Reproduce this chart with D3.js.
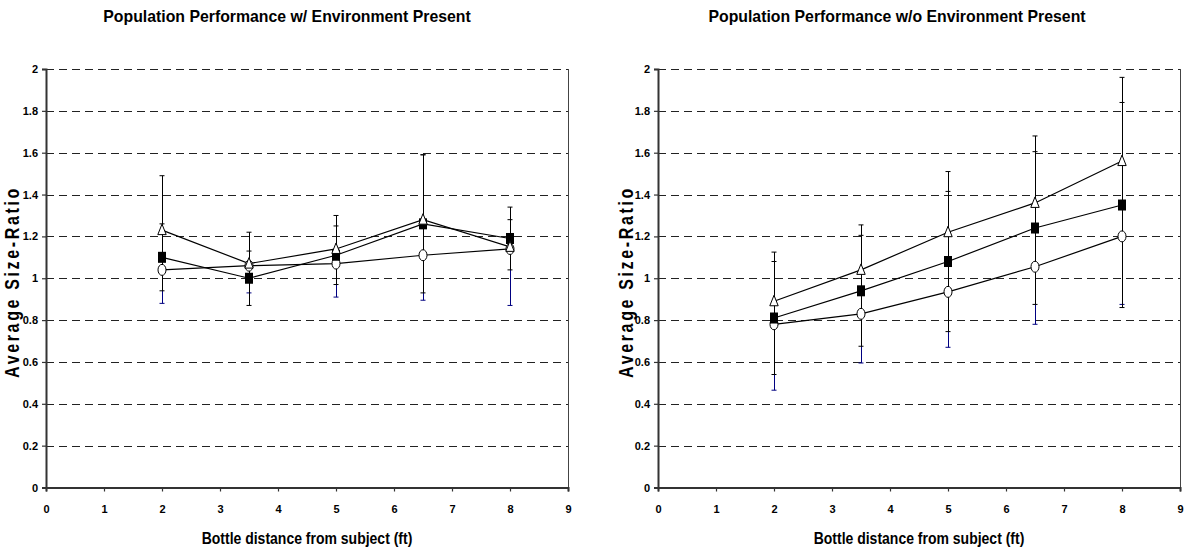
<!DOCTYPE html>
<html>
<head>
<meta charset="utf-8">
<script src="https://cdn.jsdelivr.net/npm/d3@7"></script>
<style>
  body { margin: 0; background: #fff; }
  svg { display: block; }
  text { font-family: "Liberation Sans", Arial, sans-serif; font-weight: bold; fill: #000; }
</style>
</head>
<body>
<div id="chart"></div>
<script>
// distances (ft) shared by both panels
const distances = [2, 3.5, 5, 6.5, 8];
const xTickValues = [0, 1, 2, 3, 4, 5, 6, 7, 8, 9];
const yTickValues = [0, 0.2, 0.4, 0.6, 0.8, 1, 1.2, 1.4, 1.6, 1.8, 2];

// with environment present
const withTriangle = [1.23, 1.07, 1.14, 1.28, 1.15];
const withTriangleErr = [0.26, 0.15, 0.16, 0.31, 0.13];
const withSquare = [1.10, 1.00, 1.11, 1.26, 1.19];
const withSquareErr = [0.16, 0.13, 0.14, 0.33, 0.15];
const withCircle = [1.04, 1.06, 1.07, 1.11, 1.14];
const withCircleErr = [0.16, 0.13, 0.16, 0.215, 0.27];

// without environment present
const withoutTriangle = [0.89, 1.04, 1.22, 1.36, 1.56];
const withoutTriangleErr = [0.235, 0.215, 0.29, 0.32, 0.40];
const withoutSquare = [0.81, 0.94, 1.08, 1.24, 1.35];
const withoutSquareErr = [0.27, 0.265, 0.335, 0.365, 0.49];
const withoutCircle = [0.78, 0.83, 0.935, 1.055, 1.20];
const withoutCircleErr = [0.315, 0.235, 0.265, 0.275, 0.325];

const width = 1188, height = 558;

const svg = d3.select("#chart").append("svg")
    .attr("width", width)
    .attr("height", height);

// text placed at (x, y) with a slight stretch, the original was resized unevenly
function label(g, x, y, str, size, sx, sy, rotate) {
    return g.append("text")
        .attr("transform", `translate(${x},${y})${rotate ? " rotate(-90)" : ""} scale(${sx},${sy})`)
        .attr("text-anchor", "middle")
        .style("font-size", size + "px")
        .text(str);
}

function drawPanel(opts) {
    const x = d3.scaleLinear().domain([0, 9]).range([opts.left, opts.right]);
    const y = d3.scaleLinear().domain([0, 2]).range([487.5, 69]);
    const g = svg.append("g");

    // dashed gridlines
    g.append("g")
        .selectAll("line")
        .data(yTickValues.filter(d => d > 0))
        .join("line")
        .attr("x1", x(0)).attr("x2", x(9))
        .attr("y1", d => Math.round(y(d)) + 0.5).attr("y2", d => Math.round(y(d)) + 0.5)
        .attr("stroke", "#222")
        .attr("stroke-width", 1)
        .attr("stroke-dasharray", "8,5");

    // right border of plot area
    g.append("line")
        .attr("x1", x(9) + 0.5).attr("x2", x(9) + 0.5)
        .attr("y1", y(2)).attr("y2", y(0))
        .attr("stroke", "#444")
        .attr("stroke-width", 1);

    // axes
    const xAxis = g.append("g")
        .attr("transform", `translate(0,${y(0)})`)
        .call(d3.axisBottom(x).tickValues(xTickValues).tickSize(4).tickPadding(14).tickFormat(d3.format("d")));
    const yAxis = g.append("g")
        .attr("transform", `translate(${x(0)},0)`)
        .call(d3.axisLeft(y).tickValues(yTickValues).tickSize(4).tickPadding(4).tickFormat(d => d3.format("~g")(d)));

    [xAxis, yAxis].forEach(a => {
        a.select(".domain").attr("stroke", "#333").attr("stroke-width", 2);
        a.selectAll(".tick line").attr("stroke", "#333").attr("stroke-width", 1.2);
        a.selectAll(".tick text")
            .style("font-size", "11px")
            .style("font-family", "'Liberation Sans', Arial, sans-serif")
            .style("font-weight", "bold")
            .attr("fill", "#000");
    });

    // titles
    label(g, opts.titleX, 21.5, opts.title, 16, 0.99, 1.06, false);
    label(g, x(4.5), 544, "Bottle distance from subject (ft)", 14, 1, 1.15, false);
    label(g, opts.yLabelX, 282, "Average Size-Ratio", 20, 0.8, 1, true)
        .style("letter-spacing", "3.3px");

    const series = opts.series;
    const capW = 2.5;

    // error bars: circle series (navy, minus only), then square (both), triangle (plus only)
    series.forEach(s => {
        const bars = distances.map((d, i) => ({
            x: d,
            lo: s.dir === "plus" ? s.values[i] : s.values[i] - s.err[i],
            hi: s.dir === "minus" ? s.values[i] : s.values[i] + s.err[i]
        }));
        const eg = g.append("g").attr("stroke", s.errColor).attr("stroke-width", 1);
        eg.selectAll("line.stem")
            .data(bars)
            .join("line")
            .attr("class", "stem")
            .attr("x1", d => Math.round(x(d.x)) + 0.5).attr("x2", d => Math.round(x(d.x)) + 0.5)
            .attr("y1", d => y(d.lo)).attr("y2", d => y(d.hi));
        if (s.dir !== "plus") {
            eg.selectAll("line.capLo")
                .data(bars)
                .join("line")
                .attr("class", "capLo")
                .attr("x1", d => x(d.x) - capW).attr("x2", d => x(d.x) + capW)
                .attr("y1", d => y(d.lo)).attr("y2", d => y(d.lo));
        }
        if (s.dir !== "minus") {
            eg.selectAll("line.capHi")
                .data(bars)
                .join("line")
                .attr("class", "capHi")
                .attr("x1", d => x(d.x) - capW).attr("x2", d => x(d.x) + capW)
                .attr("y1", d => y(d.hi)).attr("y2", d => y(d.hi));
        }
    });

    // series lines
    const line = d3.line().x(d => x(d[0])).y(d => y(d[1]));
    series.forEach(s => {
        g.append("path")
            .datum(distances.map((d, i) => [d, s.values[i]]))
            .attr("d", line)
            .attr("fill", "none")
            .attr("stroke", "#000")
            .attr("stroke-width", 1.2);
    });

    // markers
    series.forEach(s => {
        const pts = distances.map((d, i) => ({ x: x(d), y: y(s.values[i]) }));
        const mg = g.append("g");
        if (s.marker === "square") {
            mg.selectAll("rect").data(pts).join("rect")
                .attr("x", d => d.x - 4).attr("y", d => d.y - 5.5)
                .attr("width", 8).attr("height", 11)
                .attr("fill", "#000");
        } else if (s.marker === "circle") {
            mg.selectAll("ellipse").data(pts).join("ellipse")
                .attr("cx", d => d.x).attr("cy", d => d.y)
                .attr("rx", 4).attr("ry", 5.5)
                .attr("fill", "#fff").attr("stroke", "#000").attr("stroke-width", 1);
        } else {
            mg.selectAll("path").data(pts).join("path")
                .attr("d", d => `M${d.x},${d.y - 6} L${d.x + 4.2},${d.y + 4.5} L${d.x - 4.2},${d.y + 4.5} Z`)
                .attr("fill", "#fff").attr("stroke", "#000").attr("stroke-width", 1);
        }
    });
}

drawPanel({
    left: 46, right: 568,
    titleX: 287, yLabelX: 19,
    title: "Population Performance w/ Environment Present",
    series: [
        { values: withCircle, err: withCircleErr, dir: "minus", marker: "circle", errColor: "#000080" },
        { values: withSquare, err: withSquareErr, dir: "both", marker: "square", errColor: "#000" },
        { values: withTriangle, err: withTriangleErr, dir: "plus", marker: "triangle", errColor: "#000" }
    ]
});

drawPanel({
    left: 658, right: 1180,
    titleX: 897, yLabelX: 633,
    title: "Population Performance w/o Environment Present",
    series: [
        { values: withoutCircle, err: withoutCircleErr, dir: "minus", marker: "circle", errColor: "#000080" },
        { values: withoutSquare, err: withoutSquareErr, dir: "both", marker: "square", errColor: "#000" },
        { values: withoutTriangle, err: withoutTriangleErr, dir: "plus", marker: "triangle", errColor: "#000" }
    ]
});
</script>
</body>
</html>
